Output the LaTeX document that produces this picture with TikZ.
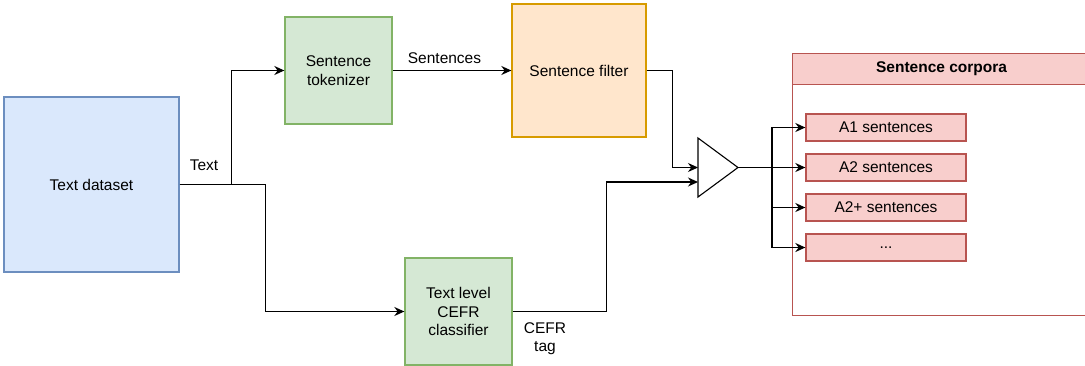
\documentclass[tikz,border=0pt]{standalone}
\usepackage{fontspec}
\setmainfont{Liberation Sans}
\usepackage{xcolor}
\usetikzlibrary{arrows.meta}

\definecolor{datafill}{HTML}{DAE8FC}
\definecolor{datadraw}{HTML}{6C8EBF}
\definecolor{stepfill}{HTML}{D5E8D4}
\definecolor{stepdraw}{HTML}{82B366}
\definecolor{filterfill}{HTML}{FFE6CC}
\definecolor{filterdraw}{HTML}{D79B00}
\definecolor{corpusfill}{HTML}{F8CECC}
\definecolor{corpusdraw}{HTML}{B85450}

\begin{document}
\begin{tikzpicture}[x=1pt,y=-1pt,
  every node/.style={font=\fontsize{15.5}{18.5}\selectfont},
  block/.style={draw,line width=1.3pt,align=center,inner sep=0pt},
  item/.style={draw=corpusdraw,fill=corpusfill,line width=1.3pt,minimum width=160pt,minimum height=27pt,inner sep=0pt},
  flow/.style={line width=1.4pt,-{Stealth[length=10pt,width=9pt]}},
  lbl/.style={inner sep=0pt,align=center}]
  \useasboundingbox (0,0) rectangle (1085,365);
  \clip (0,0) rectangle (1085,365);

  % Input and processing blocks
  \node[block,fill=datafill,draw=datadraw,minimum width=175pt,minimum height=175pt] (dataset) at (91.5,184.5) {Text dataset};
  \node[block,fill=stepfill,draw=stepdraw,minimum width=107pt,minimum height=107pt] (tokenizer) at (338.5,70.5) {Sentence\\tokenizer};
  \node[block,fill=filterfill,draw=filterdraw,minimum width=134pt,minimum height=133pt] (filter) at (579,70.5) {Sentence filter};
  \node[block,fill=stepfill,draw=stepdraw,minimum width=107pt,minimum height=107pt] (classifier) at (458.5,311.5) {Text level\\CEFR\\classifier};

  % Merge triangle
  \draw[line width=1.1pt,fill=white] (698,138) -- (738,167.5) -- (698,197) -- cycle;
  \coordinate (apex) at (738,167.5);
  \coordinate (in1) at (698,167.5);
  \coordinate (in2) at (698,182);

  % Sentence corpora container
  \node[draw=corpusdraw,line width=1.3pt,fill=white,minimum width=298pt,minimum height=262pt,anchor=north west,inner sep=0pt] (corpora) at (792,53) {};
  \node[draw=corpusdraw,line width=1.3pt,fill=corpusfill,minimum width=298pt,minimum height=31pt,anchor=north west,inner sep=0pt] (corphead) at (792,53) {\textbf{Sentence corpora}};

  \node[item] (aone) at (886,127.5) {A1 sentences};
  \node[item] (atwo) at (886,167.5) {A2 sentences};
  \node[item] (atwoplus) at (886,207.5) {A2+ sentences};
  \node[item] (dots) at (886,247.5) {...};

  % Connectors
  \draw[flow] (dataset.east) -- ++(52,0) |- (tokenizer.west);
  \draw[flow] (dataset.east) -- ++(86,0) |- (classifier.west);
  \draw[flow] (tokenizer.east) -- (filter.west);
  \draw[flow] (filter.east) -- ++(26,0) |- (in1);
  \draw[flow] (classifier.east) -- ++(94,0) |- (in2);
  \foreach \t in {aone,atwo,atwoplus,dots}
    \draw[flow] (apex) -- ++(34,0) |- (\t.west);

  % Labels
  \node[lbl] (textlbl) at (204,165) {Text};
  \node[lbl] (sentlbl) at (444.5,58) {Sentences};
  \node[lbl] (taglbl) at (545,338.5) {CEFR\\tag};
\end{tikzpicture}
\end{document}
